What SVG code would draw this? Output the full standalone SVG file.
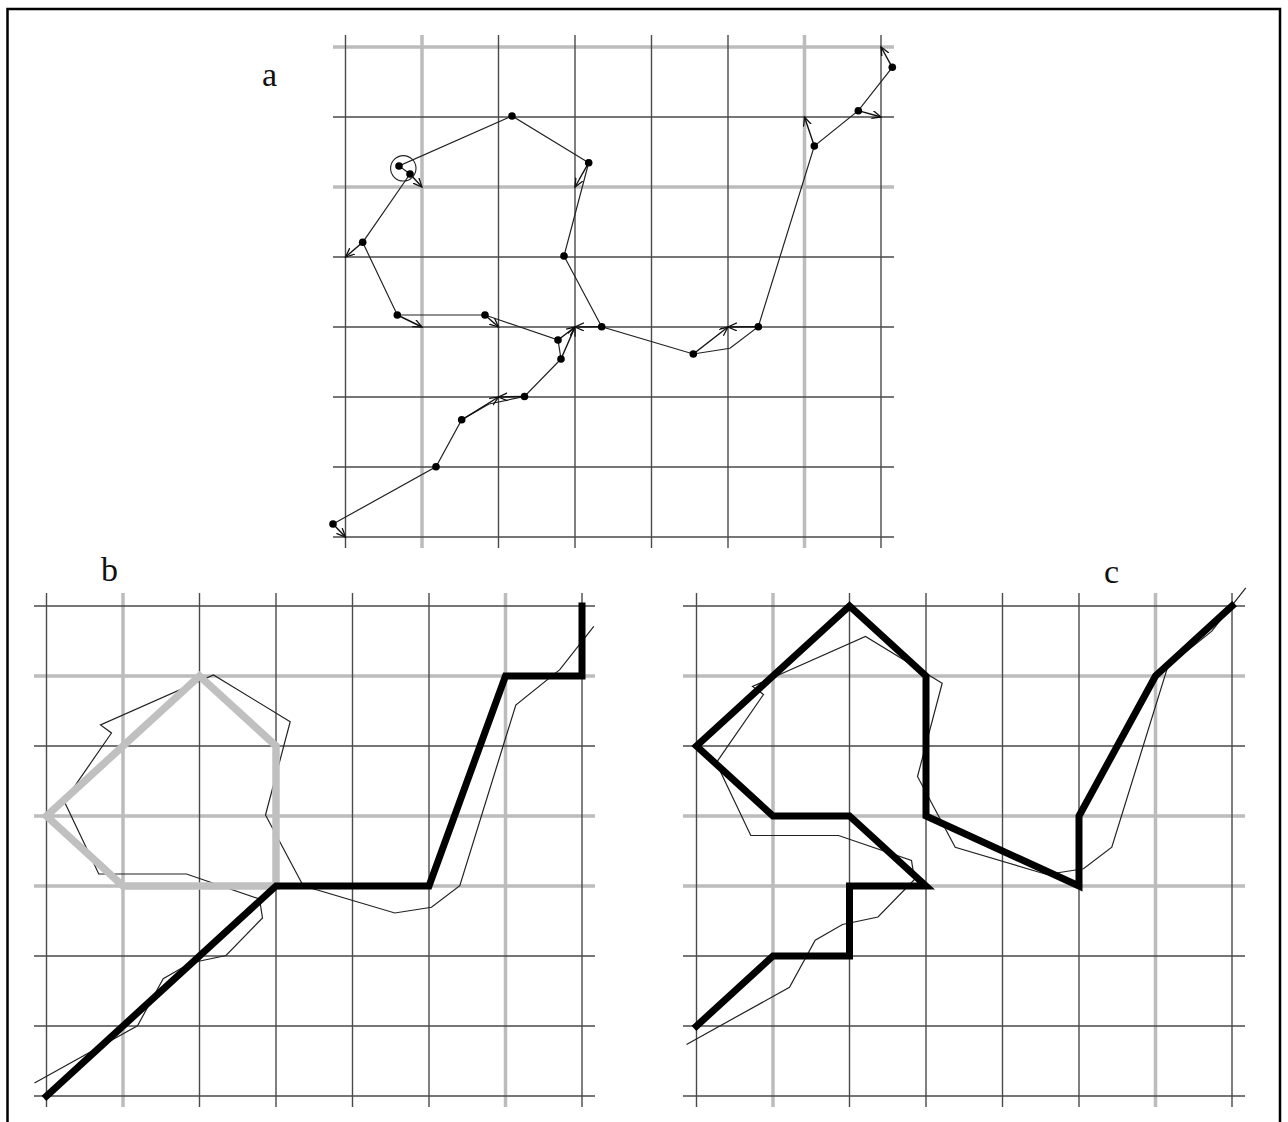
<svg xmlns="http://www.w3.org/2000/svg" xmlns:xlink="http://www.w3.org/1999/xlink" width="1288" height="1122" viewBox="0 0 1288 1122">
<style>
.gd{stroke:#4a4a4a;stroke-width:1.4;fill:none}
.gg{stroke:#bcbcbc;stroke-width:3.5;fill:none}
.traj{stroke:#222;stroke-width:1.2;fill:none;stroke-linejoin:miter}
.arr{stroke:#111;stroke-width:1.4;fill:none;marker-end:url(#ah)}
.dot{fill:#000}
.thick{stroke:#000;stroke-width:7;fill:none;stroke-linejoin:miter;stroke-linecap:square}
.thickg{stroke:#c0c0c0;stroke-width:7.5;fill:none;stroke-linejoin:miter}
.lblS{font-family:"Liberation Serif","Times New Roman",serif;font-size:34px;fill:#111}
</style>
<defs>
<marker id="ah" markerUnits="userSpaceOnUse" markerWidth="12" markerHeight="10" refX="9" refY="4" orient="auto">
<path d="M0,0 L9,4 L0,8" fill="none" stroke="#111" stroke-width="1.3"/>
</marker>
<path id="traj" d="M333,524 L436,466.8 L461.7,419.8 L489,404 L524.5,396.5 L561,359 L558,340 L485,315 L397.3,315 L362.7,242.3 L410,174 L399,166 L512,116 L588.7,162.7 L564,256 L601.7,326.7 L693.3,354 L730,348.3 L758.3,326.7 L814.3,146 L858.3,110.7 L892.3,67.3"/>
</defs>
<rect x="0" y="0" width="1288" height="1122" fill="#fff"/>
<rect id="frame" x="7.5" y="9" width="1272.5" height="1130" fill="none" stroke="#000" stroke-width="2.5"/>

<g id="panel-a">
<g id="grid-a">
<path class="gg" d="M422,35V548 M804.5,35V548 M333,47H894 M333,187H894"/>
<path class="gd" d="M345.5,35V548 M498.5,35V548 M575,35V548 M651.5,35V548 M728,35V548 M881,35V548 M333,117H894 M333,257H894 M333,327H894 M333,397H894 M333,467H894 M333,537H894"/>
</g>
<use xlink:href="#traj" href="#traj" class="traj"/>
<g id="arrows-a">
<path class="arr" d="M333,524L345.5,537"/>
<path class="arr" d="M461.7,419.8L498.5,397"/>
<path class="arr" d="M524.5,396.5L498.5,397"/>
<path class="arr" d="M561,359L575,327"/>
<path class="arr" d="M558,340L575,327"/>
<path class="arr" d="M601.7,326.7L575,327"/>
<path class="arr" d="M485,315L498.5,327"/>
<path class="arr" d="M397.3,315L422,327"/>
<path class="arr" d="M362.7,242.3L345.5,257"/>
<path class="arr" d="M410,174L422,187"/>
<path class="arr" d="M588.7,162.7L575,187"/>
<path class="arr" d="M693.3,354L728,327"/>
<path class="arr" d="M758.3,326.7L728,327"/>
<path class="arr" d="M814.3,146L804.5,117"/>
<path class="arr" d="M858.3,110.7L881,117"/>
<path class="arr" d="M892.3,67.3L881,47"/>
</g>
<g id="dots-a" class="dot">
<circle cx="333" cy="524" r="3.8"/>
<circle cx="436" cy="466.8" r="3.8"/>
<circle cx="461.7" cy="419.8" r="3.8"/>
<circle cx="524.5" cy="396.5" r="3.8"/>
<circle cx="561" cy="359" r="3.8"/>
<circle cx="558" cy="340" r="3.8"/>
<circle cx="485" cy="315" r="3.8"/>
<circle cx="397.3" cy="315" r="3.8"/>
<circle cx="362.7" cy="242.3" r="3.8"/>
<circle cx="410" cy="174" r="3.8"/>
<circle cx="399" cy="166" r="3.8"/>
<circle cx="512" cy="116" r="3.8"/>
<circle cx="588.7" cy="162.7" r="3.8"/>
<circle cx="564" cy="256" r="3.8"/>
<circle cx="601.7" cy="326.7" r="3.8"/>
<circle cx="693.3" cy="354" r="3.8"/>
<circle cx="758.3" cy="326.7" r="3.8"/>
<circle cx="814.3" cy="146" r="3.8"/>
<circle cx="858.3" cy="110.7" r="3.8"/>
<circle cx="892.3" cy="67.3" r="3.8"/>
</g>
<circle cx="403.3" cy="168.3" r="12.7" fill="none" stroke="#222" stroke-width="1.1"/>
<text class="lblS" x="262" y="86">a</text>
</g>

<g id="panel-b">
<g id="grid-b">
<path class="gg" d="M123,593V1107 M505.5,593V1107 M34,676H595 M34,816H595 M34,886H595"/>
<path class="gd" d="M46.5,593V1107 M199.5,593V1107 M276,593V1107 M352.5,593V1107 M429,593V1107 M582,593V1107 M34,606H595 M34,746H595 M34,956H595 M34,1026H595 M34,1096H595"/>
</g>
<use xlink:href="#traj" href="#traj" class="traj" transform="translate(-298.5,559)"/>
<path class="thickg" d="M46.5,816 L199.5,676 L276,746 L276,886 L123,886 Z"/>
<path class="thick" d="M46.5,1096 L276,886 L429,886 L505.5,676 L582,676 L582,606"/>
<text class="lblS" x="101" y="581">b</text>
</g>

<g id="panel-c">
<g id="grid-c">
<path class="gg" d="M773,593V1107 M1155.5,593V1107 M683,676H1245 M683,816H1245 M683,886H1245"/>
<path class="gd" d="M696.5,593V1107 M849.5,593V1107 M926,593V1107 M1002.5,593V1107 M1079,593V1107 M1232,593V1107 M683,606H1245 M683,746H1245 M683,956H1245 M683,1026H1245 M683,1096H1245"/>
</g>
<use xlink:href="#traj" href="#traj" class="traj" transform="translate(353.5,520.5)"/>
<path class="thick" d="M696.5,1026 L773,956 L849.5,956 L849.5,886 L926,886 L849.5,816 L773,816 L696.5,746 L849.5,606 L926,676 L926,816 L1079,886 L1079,816 L1155.5,676 L1232,606"/>
<text class="lblS" x="1104" y="583">c</text>
</g>
</svg>
